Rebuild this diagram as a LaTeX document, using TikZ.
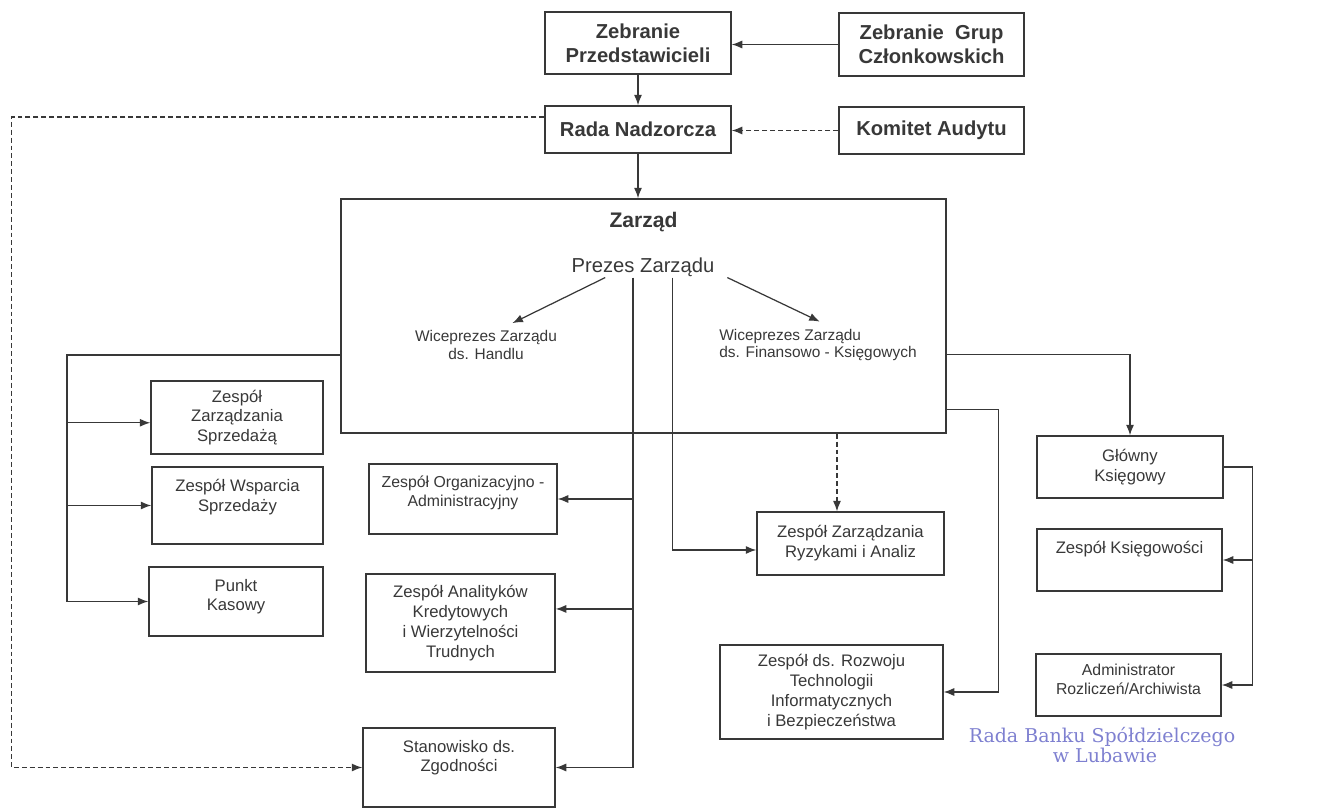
\documentclass[tikz,border=0pt]{standalone}
\usepackage{fontspec}
\setmainfont{Liberation Sans}
\newfontfamily\stampfont{DejaVu Serif}
\usetikzlibrary{arrows.meta}

\definecolor{ink}{HTML}{383838}
\definecolor{stampblue}{HTML}{7E80D0}

\newcommand\bxfont{\fontsize{9.5}{11.3}\selectfont}

\begin{document}
\begin{tikzpicture}[
    x=0.02cm, y=-0.02cm,
    box/.style={draw=ink, line width=0.8pt, text=ink, font=\bxfont, align=center, inner sep=1pt},
    sz/.style 2 args={minimum width=#1*0.02cm, minimum height=#2*0.02cm},
    hbox/.style={box, font=\fontsize{11.5}{13.6}\selectfont\bfseries},
    intop/.style={anchor=north, yshift=-7pt, inner sep=0pt, align=center, font=\bxfont, text=ink},
    vp/.style={font=\fontsize{8.8}{10}\selectfont, text=ink, inner sep=0pt},
    ln/.style={draw=ink, line width=0.7pt},
    arr/.style={ln, -{Latex[length=6pt, width=4.6pt]}},
    darr/.style={arr, line width=0.8pt, dash pattern=on 2.8pt off 1.7pt},
]

\useasboundingbox (0,0) rectangle (1324,810);

% --- Top level ---
\node[hbox, sz={186}{62}] (zp) at (638, 43) {Zebranie\\Przedstawicieli};
\node[hbox, sz={185}{63}] (zgc) at (931.5, 44.5) {Zebranie\ \ Grup\\Członkowskich};
\node[hbox, sz={186}{47}] (rn) at (638, 129.5) {Rada Nadzorcza};
\node[hbox, sz={185}{47}] (ka) at (931.5, 130.5) {Komitet Audytu};

% --- Zarzad ---
\node[box, sz={605}{234},
      label={[anchor=north, yshift=-8pt, inner sep=0pt, text=ink,
              font=\fontsize{12}{14}\selectfont\bfseries]north:Zarząd}]
    (zarzad) at (643.5, 316) {};
\node[font=\fontsize{11.5}{14}\selectfont, text=ink, inner sep=0pt, anchor=base]
    (prezes) at (643, 273) {Prezes Zarządu};
\node[vp, align=center] (wh) at (486, 345) {Wiceprezes Zarządu\\ds. Handlu};
\node[vp, align=left] (wf) at (818, 345) {Wiceprezes Zarządu\\ds. Finansowo - Księgowych};

% --- Left column ---
\node[box, sz={172}{73}] (zzs) at (237, 417.5) {Zespół\\Zarządzania\\Sprzedażą};
\node[box, sz={171}{77}, label={[intop]north:{Zespół Wsparcia\\Sprzedaży}}]
    (zws) at (237.5, 505.5) {};
\node[box, sz={174}{69}, label={[intop]north:{Punkt\\Kasowy}}]
    (pk) at (236, 601.5) {};

% --- Middle column ---
\node[box, sz={188}{70},
      label={[intop, font=\fontsize{9}{10.5}\selectfont]north:{Zespół Organizacyjno -\\Administracyjny}}]
    (zoa) at (463, 499) {};
\node[box, sz={189}{98}] (zak) at (460.5, 623)
    {Zespół Analityków\\Kredytowych\\i Wierzytelności\\Trudnych};
\node[box, sz={192}{79}, label={[intop]north:{Stanowisko ds.\\Zgodności}}]
    (zgod) at (459, 767.5) {};
\node[box, sz={187}{63}] (zzr) at (850.5, 543.5) {Zespół Zarządzania\\Ryzykami i Analiz};
\node[box, sz={223}{94}] (zrt) at (831.5, 692)
    {Zespół ds. Rozwoju\\Technologii\\Informatycznych\\i Bezpieczeństwa};

% --- Right column ---
\node[box, sz={186}{62}] (gk) at (1130, 467) {Główny\\Księgowy};
\node[box, sz={185}{62}, label={[intop]north:{Zespół Księgowości}}]
    (zks) at (1129.5, 560) {};
\node[box, sz={185}{62},
      label={[intop, yshift=1pt, font=\fontsize{9}{10.5}\selectfont]north:{Administrator\\Rozliczeń/Archiwista}}]
    (adm) at (1128.5, 685) {};

% --- Top connectors ---
\draw[arr] (zgc.west) -- (zgc.west -| zp.east);
\draw[arr] (zp) -- (rn);
\draw[darr] (ka.west) -- (ka.west -| rn.east);
\draw[arr] (rn.south) -- (rn.south |- zarzad.north);
\draw[darr] ([yshift=7pt]rn.west) -- ++(-533, 0) |- (zgod.west);

% Prezes -> vice presidents
\draw[arr] ([xshift=-21.5pt]prezes.south) -- ([xshift=15pt, yshift=4pt]wh.north);
\draw[arr] ([xshift=48pt]prezes.south) -- ([xshift=1pt, yshift=4pt]wf.north);

% Prezes -> middle column
\coordinate (pv1) at ([xshift=-5.7pt]prezes.south);
\coordinate (pv2) at ([xshift=17pt]prezes.south);
\draw[ln] (pv1) -- (pv1 |- zgod.east);
\draw[arr] (pv1 |- zoa.east) -- (zoa.east);
\draw[arr] ([yshift=8pt]pv1 |- zak.east) -- ([yshift=8pt]zak.east);
\draw[arr] (pv1 |- zgod.east) -- (zgod.east);
\draw[arr] (pv2) |- ([yshift=-3.7pt]zzr.west);
\draw[darr, line width=0.6pt] ([xshift=-7.7pt]zzr.north |- zarzad.south) -- ([xshift=-7.7pt]zzr.north);

% Zarzad -> left column
\coordinate (lb) at (67, 355);
\draw[ln] (zarzad.west |- lb) -- (lb) -- (lb |- pk.west);
\draw[arr] ([yshift=-3pt]lb |- zzs.west) -- ([yshift=-3pt]zzs.west);
\draw[arr] (lb |- zws.west) -- (zws.west);
\draw[arr] (lb |- pk.west) -- (pk.west);

% Zarzad -> right side
\draw[arr] ([yshift=-22pt]zarzad.east) -| (gk.north);
\draw[arr] ([yshift=-53.3pt]zarzad.east) -- ++(52, 0) |- (zrt.east);
\draw[ln] (gk.east) -- ++(29, 0) coordinate (rb) -- (rb |- adm.east);
\draw[arr] (rb |- zks.east) -- (zks.east);
\draw[arr] (rb |- adm.east) -- (adm.east);

% Stamp
\node[font=\stampfont\fontsize{10.8}{12}\selectfont, text=stampblue, inner sep=0pt]
    (stamp1) at (1102, 737) {Rada Banku Spółdzielczego};
\node[font=\stampfont\fontsize{10.8}{12}\selectfont, text=stampblue, inner sep=0pt]
    (stamp2) at (1105, 755) {w Lubawie};

\end{tikzpicture}
\end{document}
